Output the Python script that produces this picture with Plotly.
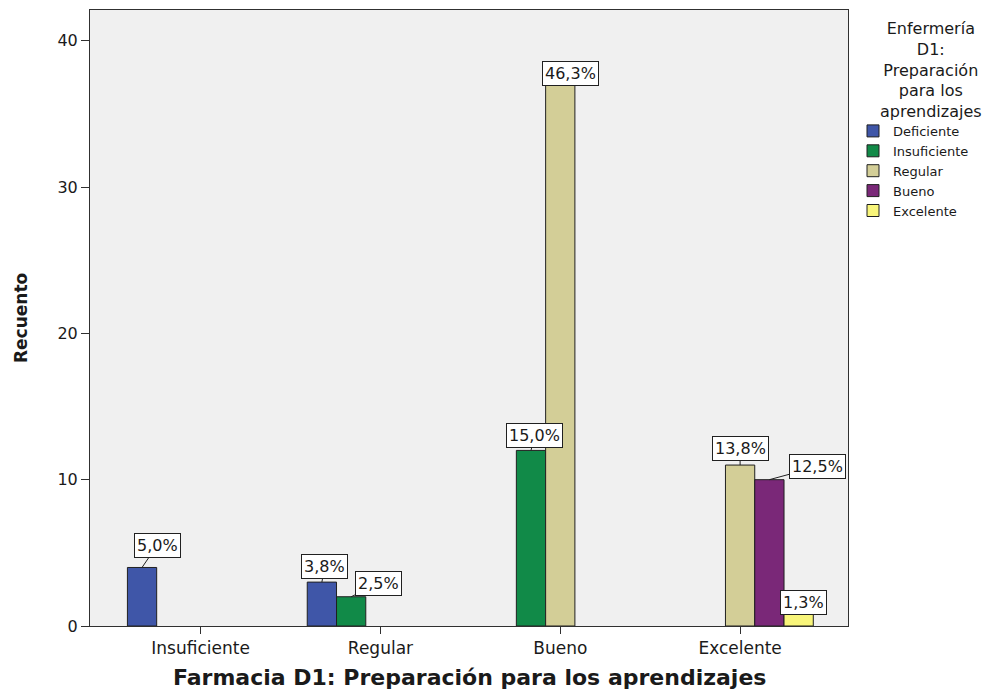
import plotly.graph_objects as go

# ---- data ----
categories = ["Insuficiente", "Regular", "Bueno", "Excelente"]
series_names = ["Deficiente", "Insuficiente", "Regular", "Bueno", "Excelente"]

deficiente = [4, 3, None, None]
insuficiente = [None, 2, 12, None]
regular = [None, None, 37, 11]
bueno = [None, None, None, 10]
excelente = [None, None, None, 1]

deficiente_pct = ["5,0%", "3,8%", None, None]
insuficiente_pct = [None, "2,5%", "15,0%", None]
regular_pct = [None, None, "46,3%", "13,8%"]
bueno_pct = [None, None, None, "12,5%"]
excelente_pct = [None, None, None, "1,3%"]

y_ticks = [0, 10, 20, 30, 40]
x_title = "Farmacia D1: Preparación para los aprendizajes"
y_title = "Recuento"
legend_title_lines = ["Enfermería", "D1:", "Preparación", "para los", "aprendizajes"]

# ---- styles ----
colors = ["#3F56A8", "#118A48", "#D3CE97", "#7A2878", "#F8F57A"]
BARGAP = 0.186
FONT = "DejaVu Sans, Verdana, Arial, sans-serif"
TXT = "#1a1a1a"
# label box offsets (dx right, dy up) in px relative to bar top centre
label_offsets = {
    (0, 0): (15, 22), (0, 1): (3, 16),
    (1, 1): (27, 13), (1, 2): (4, 15),
    (2, 2): (10, 11), (2, 3): (0, 17),
    (3, 3): (48, 13),
    (4, 3): (5, 9),
}

values = [deficiente, insuficiente, regular, bueno, excelente]
pcts = [deficiente_pct, insuficiente_pct, regular_pct, bueno_pct, excelente_pct]

fig = go.Figure()
for name, vals, col in zip(series_names, values, colors):
    fig.add_trace(go.Bar(
        name=name, x=categories, y=vals,
        marker=dict(color=col, line=dict(color="#202020", width=1)),
    ))

slot = (1 - BARGAP) / len(series_names)
annotations = []
for s, (vals, labs) in enumerate(zip(values, pcts)):
    for c, (v, lab) in enumerate(zip(vals, labs)):
        if v is None or lab is None:
            continue
        dx, dy = label_offsets.get((s, c), (0, 14))
        annotations.append(dict(
            x=c + (s - (len(series_names) - 1) / 2) * slot, y=v,
            xref="x", yref="y", text=lab, showarrow=True,
            arrowhead=0, arrowwidth=1, arrowcolor="#202020",
            ax=dx, ay=-dy, standoff=0,
            font=dict(family=FONT, size=16, color=TXT),
            bgcolor="white", bordercolor="#202020", borderwidth=1, borderpad=2,
        ))

# axis titles
annotations.append(dict(
    x=0.5, y=-0.083, xref="paper", yref="paper", text=x_title, showarrow=False,
    xanchor="center", yanchor="middle",
    font=dict(family="DejaVu Sans, Arial, sans-serif", size=22, color=TXT, weight="bold"),
))
annotations.append(dict(
    x=-0.091, y=0.5, xref="paper", yref="paper", text=y_title, showarrow=False,
    textangle=-90, xanchor="center", yanchor="middle",
    font=dict(family="DejaVu Sans, Arial, sans-serif", size=17, color=TXT, weight="bold"),
))
# legend title (centred block of lines)
annotations.append(dict(
    x=1.11, y=0.988, xref="paper", yref="paper", text="<br>".join(legend_title_lines),
    showarrow=False, xanchor="center", yanchor="top", align="center",
    font=dict(family=FONT, size=16, color=TXT),
))

# page body has an 8px margin, so the figure is sized to fit the 1003x691 window
fig.update_layout(
    width=995, height=683,
    margin=dict(l=82, r=155, t=2, b=65),
    paper_bgcolor="white", plot_bgcolor="#F0F0F0",
    barmode="group", bargap=BARGAP, bargroupgap=0,
    showlegend=True,
    legend=dict(
        x=1.0066, y=0.828, xanchor="left", yanchor="top",
        font=dict(family=FONT, size=13, color=TXT),
        bgcolor="rgba(0,0,0,0)", tracegroupgap=0, itemclick=False,
    ),
    annotations=annotations,
    font=dict(family=FONT, color=TXT),
)
fig.update_xaxes(
    type="category", categoryorder="array", categoryarray=categories,
    range=[-0.615, 3.6], showgrid=False, zeroline=False,
    showline=True, mirror=True, linecolor="#303030", linewidth=1,
    ticks="outside", ticklen=7, tickcolor="#303030",
    tickfont=dict(family=FONT, size=17, color=TXT),
)
fig.update_yaxes(
    range=[0, 42.1], tickvals=y_ticks, showgrid=False, zeroline=False,
    showline=True, mirror=True, linecolor="#303030", linewidth=1,
    ticks="outside", ticklen=8, tickcolor="#303030",
    tickfont=dict(family=FONT, size=16, color=TXT),
)

fig.write_html("out.html")
